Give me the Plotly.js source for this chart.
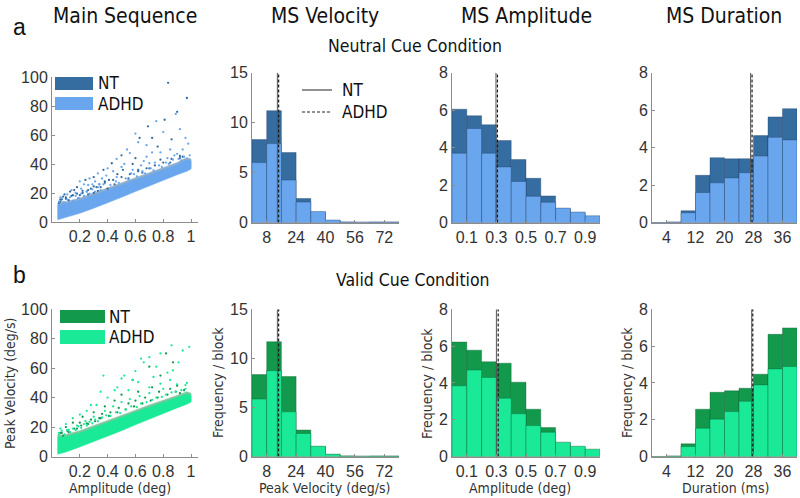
<!DOCTYPE html>
<html><head><meta charset="utf-8">
<script src="https://cdn.plot.ly/plotly-3.0.1.min.js"></script>
<style>html,body{margin:0;padding:0;background:#fff}#chart{width:800px;height:498px}</style>
</head><body><div id="chart"></div>
<script>
// ---------- text ----------
const panelTitles = ['Main Sequence', 'MS Velocity', 'MS Amplitude', 'MS Duration'];
const conditions = ['Neutral Cue Condition', 'Valid Cue Condition'];
const rowLetters = ['a', 'b'];
const groups = ['NT', 'ADHD'];
const xTitles = ['Amplitude (deg)', 'Peak Velocity (deg/s)', 'Amplitude (deg)', 'Duration (ms)'];
const yTitles = ['Peak Velocity (deg/s)', 'Frequency / block', 'Frequency / block', 'Frequency / block'];

// ---------- ticks ----------
const scatXTicks = [0.2, 0.4, 0.6, 0.8, 1];
const scatXLabels = ['0.2', '0.4', '0.6', '0.8', '1'];
const scatYTicks = [0, 20, 40, 60, 80, 100];
const velXTicks = [8, 24, 40, 56, 72];
const velYTicks = [0, 5, 10, 15];
const ampXTicks = [0.1, 0.3, 0.5, 0.7, 0.9];
const ampYTicks = [0, 2, 4, 6, 8];
const durXTicks = [4, 12, 20, 28, 36];
const durYTicks = [0, 2, 4, 6, 8];

// ---------- histogram bins (centres) ----------
const velBins = [4, 12, 20, 28, 36, 44, 52, 60, 68, 76];
const ampBins = [0.05, 0.15, 0.25, 0.35, 0.45, 0.55, 0.65, 0.75, 0.85, 0.95];
const durBins = [2, 6, 10, 14, 18, 22, 26, 30, 34, 38];

// ---------- Neutral cue ----------
const velNT_neu   = [8.3, 11.2, 7.0, 2.4, 1.0, 0.2, 0.05, 0.03, 0.04, 0.04];
const velADHD_neu = [6.0, 7.9, 4.25, 2.05, 1.1, 0.25, 0.05, 0.03, 0.05, 0.05];
const ampNT_neu   = [6.05, 5.7, 5.22, 4.38, 3.36, 2.36, 1.42, 0.72, 0.5, 0.3];
const ampADHD_neu = [3.7, 5.02, 3.7, 2.97, 2.19, 1.4, 1.08, 0.77, 0.56, 0.36];
const durNT_neu   = [0, 0.03, 0.63, 2.52, 3.46, 3.4, 3.41, 4.64, 5.64, 6.08];
const durADHD_neu = [0, 0.01, 0.52, 1.6, 2.12, 2.38, 2.66, 3.55, 4.55, 4.41];
const medVel_neu = [13.8, 14.5];   // NT, ADHD
const medAmp_neu = [0.297, 0.307];
const medDur_neu = [27.2, 27.6];

// ---------- Valid cue ----------
const velNT_val   = [8.35, 11.7, 8.15, 2.7, 1.0, 0.2, 0.05, 0.03, 0.04, 0.04];
const velADHD_val = [5.85, 8.75, 4.55, 2.35, 1.05, 0.24, 0.06, 0.03, 0.05, 0.04];
const ampNT_val   = [6.22, 5.78, 5.15, 5.07, 4.04, 2.57, 1.57, 0.74, 0.52, 0.35];
const ampADHD_val = [3.84, 4.7, 4.3, 3.17, 2.32, 1.68, 1.32, 0.78, 0.56, 0.4];
const durNT_val   = [0, 0.03, 0.69, 2.57, 3.49, 3.57, 3.71, 4.47, 6.64, 6.99];
const durADHD_val = [0, 0.01, 0.54, 1.54, 2.03, 2.44, 3.0, 3.89, 4.76, 4.89];
const medVel_val = [13.8, 14.5];
const medAmp_val = [0.300, 0.312];
const medDur_val = [27.5, 27.8];

// ---------- main sequence: dense core band outline (amplitude, velocity) ----------
const bandX = [0.04, 0.1, 0.2, 0.3, 0.4, 0.5, 0.6, 0.7, 0.8, 0.9, 0.97, 1.0];
const bandLoNT_neu   = [2.5, 4, 7, 10.5, 14, 18, 22, 26, 30, 33.5, 36, 37.5];
const bandHiNT_neu   = [13, 14, 16.5, 20, 23.5, 27, 30.5, 34, 37.5, 41, 44.5, 43.5];
const bandLoADHD_neu = [1.5, 3, 6, 9.5, 13, 17, 21, 25, 29, 32.5, 35, 36.5];
const bandHiADHD_neu = [11.5, 12.5, 15, 18.5, 22, 25.5, 29, 32.5, 36, 39.5, 43, 42];
const bandLoNT_val   = [2.5, 4, 7.5, 11, 14.5, 18.5, 22.5, 26.5, 30.5, 34, 36.5, 38];
const bandHiNT_val   = [14.5, 15, 17.5, 21, 24.5, 28, 31.5, 35, 38.5, 41.5, 44, 43];
const bandLoADHD_val = [1.5, 3, 6.5, 10, 13.5, 17.5, 21.5, 25.5, 29.5, 33, 35.5, 37];
const bandHiADHD_val = [13, 13.5, 16, 19.5, 23, 26.5, 30, 33.5, 37, 40, 42.5, 41.5];

// ---------- main sequence: individual saccades outside the dense band ----------
const msNTx_neu = [0.835,0.97,0.9,0.81,0.69,0.63,0.72,0.86,0.76,0.5,0.43,0.6,0.78,0.94,0.37,0.3,0.24,0.18,0.32,0.38,0.51,0.62,0.13,0.08,0.15,0.25,0.3,0.4,0.45,0.06,0.1,0.2,0.22,0.12,0.35,0.28,0.55,0.65,0.7,0.85,0.92,0.58,0.47,0.41,0.16,0.09,0.05,0.07,0.19,0.26,0.33,
  0.06,0.1,0.14,0.18,0.22,0.26,0.3,0.34,0.38,0.44,0.5,0.56,0.62,0.68,0.74,0.8,0.86,0.92];
const msNTy_neu = [96,85.5,76,70.5,66,58,58,57,52,46,40.5,44,43,45,36,31,29,24,24,27,36,36,21,17.5,18.5,21,20,23,26,14,16,18.5,20,15,24,23,30,34,37,41,44,40,33,29,22,19,13,15.5,16.5,19,21.5,
  15.5,17,18,19.5,21.5,22,24.5,26,28,29,31,33,35,37,39,41,43.5,45.5];
const msADHDx_neu = [0.89,0.75,0.6,0.62,0.68,0.54,0.56,0.465,0.68,0.88,0.4,0.33,0.27,0.2,0.26,0.21,0.465,0.57,0.7,0.96,0.85,0.98,0.92,0.8,0.72,0.5,0.44,0.36,0.29,0.23,0.14,0.11,0.06,0.08,0.17,0.31,0.52,0.66,0.78,0.94,0.99,0.83,0.39,0.34,0.58,0.64,0.74,0.9,
  0.05,0.07,0.09,0.11,0.13,0.15,0.17,0.19,0.21,0.23,0.25,0.27,0.29,0.31,0.33,0.35,0.37,0.42,0.46,0.48,0.53,0.55,0.59,0.61,0.65,0.67,0.71,0.73,0.77,0.79,0.82,0.84,0.87,0.91,0.93,0.95];
const msADHDy_neu = [74.5,69.5,61,55,53,50,47.5,43.5,45,46,37,33.5,30,28,25.5,23,31,33.5,40.5,58,50,54,64,62,48,38,35,30,26,26,22,19,17,13.5,20,28,40,42,48,50,46,44,32,26,36,39,41,47,
  14,16.5,13.5,15.5,17,14.5,18,16.5,19.5,18,21,19.5,22.5,21,24,22,26,25.5,28,27,30,29,33,31.5,35,33.5,37,35.5,39,38,41,40,43,43.5,42.5,45];
const msNTx_val = [0.82,0.87,0.7,0.78,0.58,0.62,0.5,0.45,0.38,0.3,0.22,0.15,0.1,0.06,0.9,0.95,0.72,0.67,0.55,0.42,0.34,0.26,0.18,0.12,0.08,0.2,0.28,0.36,0.48,0.6,0.77,0.85,0.92,
  0.07,0.11,0.16,0.21,0.25,0.31,0.35,0.41,0.47,0.53,0.59,0.65,0.71,0.76,0.83,0.89];
const msNTy_val = [70,64,61,55,52,44,42,38,34,30,27,23,20,16,48,45,47,40,36,30,26,22,19,16.5,14,23,25,29,33,38,44,46,43,
  16,17.5,19,21,22.5,24,26,27.5,30,32,34,36,38,40,42,44];
const msADHDx_val = [0.987,0.94,0.86,0.78,0.7,0.64,0.66,0.75,0.87,0.52,0.58,0.37,0.62,0.5,0.78,0.7,0.85,0.96,0.45,0.55,0.4,0.32,0.25,0.2,0.15,0.1,0.06,0.05,0.12,0.18,0.24,0.3,0.38,0.44,0.5,0.56,0.63,0.7,0.8,0.9,0.97,0.83,0.91,0.35,0.28,0.47,0.6,0.73,
  0.05,0.07,0.09,0.11,0.13,0.15,0.17,0.19,0.21,0.23,0.25,0.27,0.29,0.31,0.33,0.36,0.39,0.42,0.46,0.49,0.53,0.57,0.61,0.64,0.68,0.72,0.75,0.79,0.82,0.86,0.89,0.93,0.96];
const msADHDy_val = [74.5,72,75.5,70,67.5,66.5,64,61,58.5,55,52,55,50.5,53,49.5,47,52,48.5,45,45,40,35,31,28.5,26,22,19,15,18,21,24,27,31,34,37,39,41,43,46,49,50,57,64,44,35,47,58,54,
  16,17.5,15,18,16.5,19,18,20.5,19.5,22,21,23.5,22.5,25,24,26.5,28,27.5,30,29.5,32,34,33.5,36,37,38.5,40,40.5,42,43.5,44,45,46];

// ---------- styling ----------
const W = 800, H = 498;
const TF = '"Liberation Sans", Arial, sans-serif';
const CF = '"DejaVu Sans Condensed", "Liberation Sans Narrow", "Open Sans", sans-serif';
const pal = [
  {dark: '#356da0', light: '#69a6ee', edge: 'rgba(30,60,100,0.45)'},
  {dark: '#13994c', light: '#1aea97', edge: 'rgba(10,90,50,0.45)'}
];
const colsX = [[52, 198], [252, 399], [452, 600], [652, 797]];
const rowsY = [
  {scat: [77, 222], hist: [72.7, 222.5]},
  {scat: [309.3, 456.5], hist: [309.3, 456.5]}
];
const xd = (a) => [a[0] / W, a[1] / W];
const yd = (a) => [1 - a[1] / H, 1 - a[0] / H];

function axis(domain, range, tickvals, ticktext, anchor) {
  return {
    domain, range, tickvals, ticktext, anchor,
    showline: true, linecolor: '#8c8c8c', linewidth: 1,
    ticks: 'inside', ticklen: 3, tickcolor: '#8c8c8c', tickwidth: 1,
    showgrid: false, zeroline: false, fixedrange: true,
    tickfont: {family: TF, size: 16, color: '#333'}
  };
}

const data = [];
const layout = {
  width: W, height: H, margin: {l: 0, r: 0, t: 0, b: 0},
  paper_bgcolor: '#fff', plot_bgcolor: 'rgba(0,0,0,0)',
  showlegend: false, barmode: 'overlay', bargap: 0,
  annotations: [], shapes: []
};

const rowsData = [
  {vel: [velNT_neu, velADHD_neu], amp: [ampNT_neu, ampADHD_neu], dur: [durNT_neu, durADHD_neu],
   med: [medVel_neu, medAmp_neu, medDur_neu],
   band: [[bandLoNT_neu, bandHiNT_neu], [bandLoADHD_neu, bandHiADHD_neu]],
   pts: [[msNTx_neu, msNTy_neu], [msADHDx_neu, msADHDy_neu]]},
  {vel: [velNT_val, velADHD_val], amp: [ampNT_val, ampADHD_val], dur: [durNT_val, durADHD_val],
   med: [medVel_val, medAmp_val, medDur_val],
   band: [[bandLoNT_val, bandHiNT_val], [bandLoADHD_val, bandHiADHD_val]],
   pts: [[msNTx_val, msNTy_val], [msADHDx_val, msADHDy_val]]}
];

const histSpec = [
  {bins: velBins, width: 8, range: [0, 80], yr: [0, 15], xt: velXTicks, yt: velYTicks, key: 'vel'},
  {bins: ampBins, width: 0.1, range: [0, 1], yr: [0, 8], xt: ampXTicks, yt: ampYTicks, key: 'amp'},
  {bins: durBins, width: 4, range: [0, 40], yr: [0, 8], xt: durXTicks, yt: durYTicks, key: 'dur'}
];

rowsData.forEach((rd, r) => {
  const c = pal[r];
  const n = r * 4 + 1;
  const xa = n === 1 ? 'x' : 'x' + n, ya = n === 1 ? 'y' : 'y' + n;
  layout[n === 1 ? 'xaxis' : 'xaxis' + n] = axis(xd(colsX[0]), [0, 1.05], scatXTicks, scatXLabels, ya);
  layout[n === 1 ? 'yaxis' : 'yaxis' + n] = axis(yd(rowsY[r].scat), [0, 100], scatYTicks, scatYTicks.map(String), xa);
  [0, 1].forEach(g => {
    const lo = rd.band[g][0], hi = rd.band[g][1];
    data.push({type: 'scatter', mode: 'lines', xaxis: xa, yaxis: ya,
      x: bandX.concat(bandX.slice().reverse()), y: lo.concat(hi.slice().reverse()),
      fill: 'toself', fillcolor: g === 0 ? c.dark : c.light, line: {width: 0.5, color: g === 0 ? c.dark : c.light},
      opacity: g === 0 ? 0.55 : 1, hoverinfo: 'skip', name: groups[g]});
    data.push({type: 'scatter', mode: 'markers', xaxis: xa, yaxis: ya,
      x: rd.pts[g][0], y: rd.pts[g][1], name: groups[g],
      marker: {size: 2.3, color: g === 0 ? c.dark : c.light}});
  });
  histSpec.forEach((hs, k) => {
    const m = r * 4 + 2 + k;
    const xa2 = 'x' + m, ya2 = 'y' + m;
    layout['xaxis' + m] = axis(xd(colsX[k + 1]), hs.range, hs.xt, hs.xt.map(String), ya2);
    layout['yaxis' + m] = axis(yd(rowsY[r].hist), hs.yr, hs.yt, hs.yt.map(String), xa2);
    [0, 1].forEach(g => {
      data.push({type: 'bar', xaxis: xa2, yaxis: ya2, x: hs.bins, y: rd[hs.key][g],
        width: hs.width, name: groups[g],
        marker: {color: g === 0 ? c.dark : c.light, line: {width: 0.8, color: c.edge}}});
    });
    const med = rd.med[k];
    data.push({type: 'scatter', mode: 'lines', xaxis: xa2, yaxis: ya2, x: [med[0], med[0]], y: hs.yr,
      line: {color: '#555', width: 1}, name: 'NT median'});
    data.push({type: 'scatter', mode: 'lines', xaxis: xa2, yaxis: ya2, x: [med[1], med[1]], y: hs.yr,
      line: {color: '#1a1a1a', width: 1.2, dash: '3px,2px'}, name: 'ADHD median'});
  });
});

// ---------- annotations ----------
function ann(text, px, py, size, opts) {
  layout.annotations.push(Object.assign({
    text, x: px / W, y: 1 - py / H, xref: 'paper', yref: 'paper',
    xanchor: 'center', yanchor: 'middle', showarrow: false,
    font: {family: CF, size, color: '#111'}
  }, opts || {}));
}
const titleX = [125, 325, 526, 724];
panelTitles.forEach((t, i) => ann(t, titleX[i], 16, 21));
ann(rowLetters[0], 19, 27, 22, {font: {family: TF, size: 23, color: '#111'}});
ann(rowLetters[1], 19, 275, 22, {font: {family: TF, size: 23, color: '#111'}});
ann(conditions[0], 415, 46, 17.5);
ann(conditions[1], 413, 280, 17.5);
const xtX = [120, 325, 520, 725];
xTitles.forEach((t, i) => ann(t, xtX[i], 488, 14, {font: {family: CF, size: 14, color: '#333'}}));
const ytX = [10, 218, 427, 627];
yTitles.forEach((t, i) => ann(t, ytX[i], 383, 14, {textangle: -90, font: {family: CF, size: 14, color: '#333'}}));

const legBoxes = [
  {x0: 55, x1: 93, y: [[77, 90], [97, 110]], tx: 96},
  {x0: 60, x1: 105, y: [[310, 323], [330, 344]], tx: 107}
];
legBoxes.forEach((lb, r) => {
  [0, 1].forEach(g => {
    layout.shapes.push({type: 'rect', xref: 'paper', yref: 'paper',
      x0: lb.x0 / W, x1: lb.x1 / W, y0: 1 - lb.y[g][1] / H, y1: 1 - lb.y[g][0] / H,
      fillcolor: g === 0 ? pal[r].dark : pal[r].light, line: {width: 0}});
    ann(groups[g], lb.tx, (lb.y[g][0] + lb.y[g][1]) / 2, 17, {xanchor: 'left'});
  });
});
[[90, 'solid'], [112, 'dash']].forEach((d, g) => {
  layout.shapes.push({type: 'line', xref: 'paper', yref: 'paper',
    x0: 302 / W, x1: 332 / W, y0: 1 - d[0] / H, y1: 1 - d[0] / H,
    line: {color: '#222', width: 1, dash: d[1] === 'solid' ? 'solid' : '3px,2px'}});
  ann(groups[g], 340, d[0], 17, {xanchor: 'left'});
});

Plotly.newPlot('chart', data, layout, {staticPlot: true, displayModeBar: false});
</script></body></html>
